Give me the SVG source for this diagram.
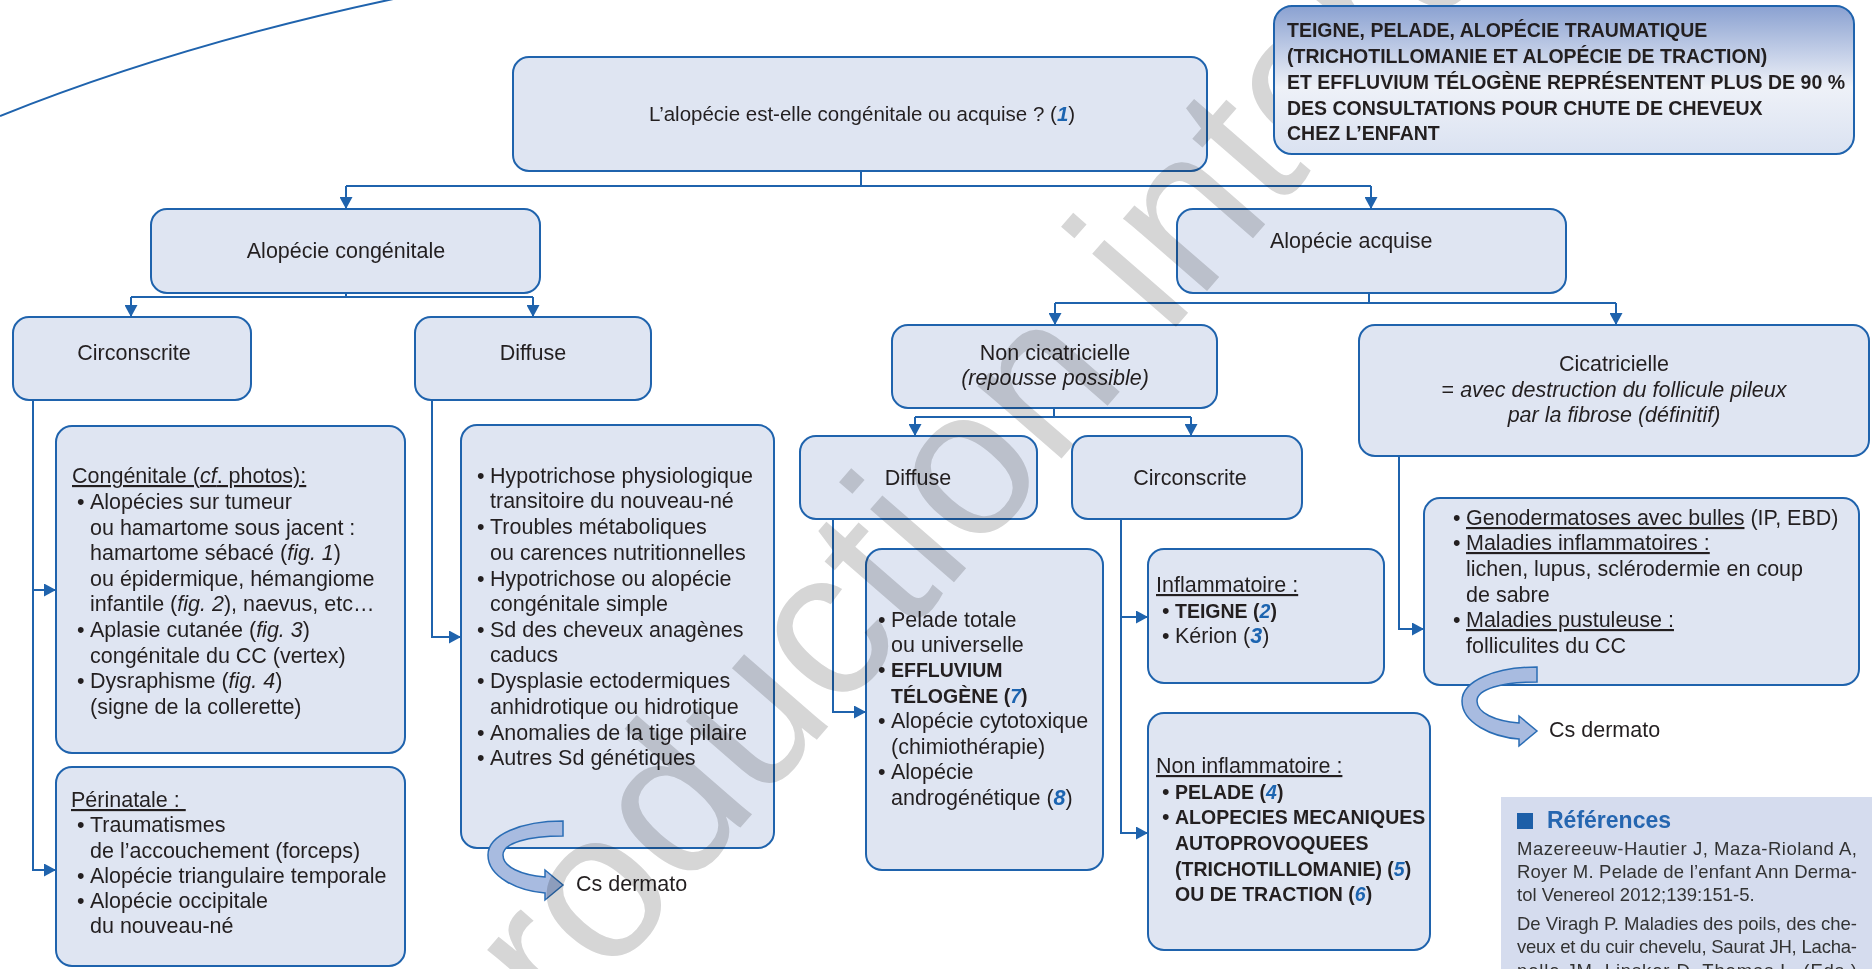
<svg xmlns="http://www.w3.org/2000/svg" width="1872" height="969" viewBox="0 0 1872 969">
<defs>
<style>
.box{fill:#dfe5f2;stroke:#1f63ad;stroke-width:2}
.conn{fill:none;stroke:#1f63ad;stroke-width:2}
text{font-family:"Liberation Sans",Arial,sans-serif;font-size:21.5px;fill:#231f20}
.b{font-weight:bold;font-size:19.5px}
.n{fill:#1c64b0;font-style:italic;font-weight:bold}
.i{font-style:italic}
.u{text-decoration:underline}
.c{text-anchor:middle}
.curl{fill:#a8bbe0;stroke:#2a6db5;stroke-width:1.5}
.ref{font-size:18.5px;fill:#333}
.wm{font-size:210px;fill:#d6d6d6}
</style>
<linearGradient id="tg" x1="0" y1="0" x2="0" y2="1">
<stop offset="0" stop-color="#8aa1d1"/>
<stop offset="0.55" stop-color="#eef1f8"/>
<stop offset="1" stop-color="#dae2f1"/>
</linearGradient>
<marker id="ah" viewBox="0 0 12 13" refX="12" refY="6.5" markerWidth="12" markerHeight="13" markerUnits="userSpaceOnUse" orient="auto">
<path d="M0,0 L12,6.5 L0,13 z" fill="#1f63ad"/>
</marker>
<path id="curl" d="M0,0 C-42,0 -75,14 -75,34 C-75,56 -45,70 -18,72 L-18,79 L0,64 L-18,49 L-18,56 C-42,54 -60,46 -60,34 C-60,22 -35,15 0,15 Z"/>
</defs>

<path d="M0,116 Q180,44 398,-2" class="conn"/>

<g id="connectors" class="conn">
<path d="M861,171 V186 M346,186 H1371"/>
<path d="M346,186 V209" marker-end="url(#ah)"/>
<path d="M1371,186 V209" marker-end="url(#ah)"/>
<path d="M346,293 V297 M131,297 H533"/>
<path d="M131,297 V317" marker-end="url(#ah)"/>
<path d="M533,297 V317" marker-end="url(#ah)"/>
<path d="M1369,293 V303 M1055,303 H1616"/>
<path d="M1055,303 V325" marker-end="url(#ah)"/>
<path d="M1616,303 V325" marker-end="url(#ah)"/>
<path d="M33,400 V870 H56" marker-end="url(#ah)"/>
<path d="M33,590 H56" marker-end="url(#ah)"/>
<path d="M432,400 V637 H461" marker-end="url(#ah)"/>
<path d="M1054,408 V417 M915,417 H1191"/>
<path d="M915,417 V436" marker-end="url(#ah)"/>
<path d="M1191,417 V436" marker-end="url(#ah)"/>
<path d="M833,519 V712 H866" marker-end="url(#ah)"/>
<path d="M1121,519 V833 H1148" marker-end="url(#ah)"/>
<path d="M1121,617 H1148" marker-end="url(#ah)"/>
<path d="M1399,456 V629 H1424" marker-end="url(#ah)"/>
</g>

<g id="n-top">
<rect class="box" x="513" y="57" width="694" height="114" rx="16"/>
<text x="862" y="121" class="c" style="font-size:20.5px">L’alopécie est-elle congénitale ou acquise ? (<tspan class="n">1</tspan>)</text>
</g>

<g id="n-congen">
<rect class="box" x="151" y="209" width="389" height="84" rx="16"/>
<text x="346" y="258" class="c">Alopécie congénitale</text>
</g>

<g id="n-acq">
<rect class="box" x="1177" y="209" width="389" height="84" rx="16"/>
<text x="1270" y="248">Alopécie acquise</text>
</g>

<g id="n-circ1">
<rect class="box" x="13" y="317" width="238" height="83" rx="16"/>
<text x="134" y="360" class="c">Circonscrite</text>
</g>

<g id="n-diff1">
<rect class="box" x="415" y="317" width="236" height="83" rx="16"/>
<text x="533" y="360" class="c">Diffuse</text>
</g>

<g id="n-congphotos">
<rect class="box" x="56" y="426" width="349" height="327" rx="16"/>
<text x="72" y="483" class="u">Congénitale (<tspan class="i">cf</tspan>. photos):</text>
<text x="77" y="509">•</text><text x="90" y="509">Alopécies sur tumeur</text>
<text x="90" y="535">ou hamartome sous jacent :</text>
<text x="90" y="560">hamartome sébacé (<tspan class="i">fig. 1</tspan>)</text>
<text x="90" y="586">ou épidermique, hémangiome</text>
<text x="90" y="611">infantile (<tspan class="i">fig. 2</tspan>), naevus, etc…</text>
<text x="77" y="637">•</text><text x="90" y="637">Aplasie cutanée (<tspan class="i">fig. 3</tspan>)</text>
<text x="90" y="663">congénitale du CC (vertex)</text>
<text x="77" y="688">•</text><text x="90" y="688">Dysraphisme (<tspan class="i">fig. 4</tspan>)</text>
<text x="90" y="714">(signe de la collerette)</text>
</g>

<g id="n-perinat">
<rect class="box" x="56" y="767" width="349" height="199" rx="16"/>
<text x="71" y="807" class="u" style="white-space:pre">Périnatale : </text>
<text x="77" y="832">•</text><text x="90" y="832">Traumatismes</text>
<text x="90" y="858">de l’accouchement (forceps)</text>
<text x="77" y="883">•</text><text x="90" y="883">Alopécie triangulaire temporale</text>
<text x="77" y="908">•</text><text x="90" y="908">Alopécie occipitale</text>
<text x="90" y="933">du nouveau-né</text>
</g>

<g id="n-hypo">
<rect class="box" x="461" y="425" width="313" height="423" rx="16"/>
<text x="477" y="483">•</text><text x="490" y="483">Hypotrichose physiologique</text>
<text x="490" y="508">transitoire du nouveau-né</text>
<text x="477" y="534">•</text><text x="490" y="534">Troubles métaboliques</text>
<text x="490" y="560">ou carences nutritionnelles</text>
<text x="477" y="586">•</text><text x="490" y="586">Hypotrichose ou alopécie</text>
<text x="490" y="611">congénitale simple</text>
<text x="477" y="637">•</text><text x="490" y="637">Sd des cheveux anagènes</text>
<text x="490" y="662">caducs</text>
<text x="477" y="688">•</text><text x="490" y="688">Dysplasie ectodermiques</text>
<text x="490" y="714">anhidrotique ou hidrotique</text>
<text x="477" y="740">•</text><text x="490" y="740">Anomalies de la tige pilaire</text>
<text x="477" y="765">•</text><text x="490" y="765">Autres Sd génétiques</text>
</g>

<g id="n-cs1">
<use href="#curl" class="curl" transform="translate(563,821)"/>
<text x="576" y="891">Cs dermato</text>
</g>

<g id="n-noncic">
<rect class="box" x="892" y="325" width="325" height="83" rx="16"/>
<text x="1055" y="360" class="c">Non cicatricielle</text>
<text x="1055" y="385" class="c i">(repousse possible)</text>
</g>

<g id="n-cicat">
<rect class="box" x="1359" y="325" width="510" height="131" rx="16"/>
<text x="1614" y="371" class="c">Cicatricielle</text>
<text x="1614" y="397" class="c">= <tspan class="i">avec destruction du follicule pileux</tspan></text>
<text x="1614" y="422" class="c i">par la fibrose (définitif)</text>
</g>

<g id="n-diff2">
<rect class="box" x="800" y="436" width="237" height="83" rx="16"/>
<text x="918" y="485" class="c">Diffuse</text>
</g>

<g id="n-circ2">
<rect class="box" x="1072" y="436" width="230" height="83" rx="16"/>
<text x="1190" y="485" class="c">Circonscrite</text>
</g>

<g id="n-pelade">
<rect class="box" x="866" y="549" width="237" height="321" rx="16"/>
<text x="878" y="627">•</text><text x="891" y="627">Pelade totale</text>
<text x="891" y="652">ou universelle</text>
<text x="878" y="677">•</text><text x="891" y="677" class="b">EFFLUVIUM</text>
<text x="891" y="703" class="b">TÉLOGÈNE (<tspan class="n">7</tspan>)</text>
<text x="878" y="728">•</text><text x="891" y="728">Alopécie cytotoxique</text>
<text x="891" y="754">(chimiothérapie)</text>
<text x="878" y="779">•</text><text x="891" y="779">Alopécie</text>
<text x="891" y="805">androgénétique (<tspan class="n">8</tspan>)</text>
</g>

<g id="n-inflam">
<rect class="box" x="1148" y="549" width="236" height="134" rx="16"/>
<text x="1156" y="592" class="u">Inflammatoire :</text>
<text x="1162" y="618">•</text><text x="1175" y="618" class="b">TEIGNE (<tspan class="n">2</tspan>)</text>
<text x="1162" y="643">•</text><text x="1175" y="643">Kérion (<tspan class="n">3</tspan>)</text>
</g>

<g id="n-noninflam">
<rect class="box" x="1148" y="713" width="282" height="237" rx="16"/>
<text x="1156" y="773" class="u">Non inflammatoire :</text>
<text x="1162" y="799">•</text><text x="1175" y="799" class="b">PELADE (<tspan class="n">4</tspan>)</text>
<text x="1162" y="824">•</text><text x="1175" y="824" class="b">ALOPECIES MECANIQUES</text>
<text x="1175" y="850" class="b">AUTOPROVOQUEES</text>
<text x="1175" y="876" class="b">(TRICHOTILLOMANIE) (<tspan class="n">5</tspan>)</text>
<text x="1175" y="901" class="b">OU DE TRACTION (<tspan class="n">6</tspan>)</text>
</g>

<g id="n-geno">
<rect class="box" x="1424" y="498" width="435" height="187" rx="16"/>
<text x="1453" y="525">•</text><text x="1466" y="525"><tspan class="u">Genodermatoses avec bulles</tspan> (IP, EBD)</text>
<text x="1453" y="550">•</text><text x="1466" y="550" class="u">Maladies inflammatoires :</text>
<text x="1466" y="576">lichen, lupus, sclérodermie en coup</text>
<text x="1466" y="602">de sabre</text>
<text x="1453" y="627">•</text><text x="1466" y="627" class="u">Maladies pustuleuse :</text>
<text x="1466" y="653">folliculites du CC</text>
</g>

<g id="n-cs2">
<use href="#curl" class="curl" transform="translate(1537,667)"/>
<text x="1549" y="737">Cs dermato</text>
</g>

<g id="refs">
<rect x="1501" y="797" width="371" height="172" fill="#d5dcee"/>
<rect x="1517" y="813" width="16" height="16" fill="#1d5fa8"/>
<text x="1547" y="828" style="font-weight:bold;font-size:23px;fill:#2566b0">Références</text>
<text class="ref" x="1517" y="855" textLength="340" lengthAdjust="spacing">Mazereeuw-Hautier J, Maza-Rioland A,</text>
<text class="ref" x="1517" y="878" textLength="340" lengthAdjust="spacing">Royer M. Pelade de l’enfant Ann Derma-</text>
<text class="ref" x="1517" y="901">tol Venereol 2012;139:151-5.</text>
<text class="ref" x="1517" y="930" textLength="340" lengthAdjust="spacing">De Viragh P. Maladies des poils, des che-</text>
<text class="ref" x="1517" y="953" textLength="340" lengthAdjust="spacing">veux et du cuir chevelu, Saurat JH, Lacha-</text>
<text class="ref" x="1517" y="977" textLength="340" lengthAdjust="spacing">pelle JM, Lipsker D, Thomas L. (Eds.)</text>
</g>

<g id="watermark" style="mix-blend-mode:multiply">
<text class="wm" transform="translate(309,1324) rotate(-49)">Reproduction interdite</text>
</g>

<g id="n-note">
<rect x="1274" y="6" width="580" height="148" rx="18" fill="url(#tg)" stroke="#1f63ad" stroke-width="2"/>
<text class="b"><tspan x="1287" y="37">TEIGNE, PELADE, ALOPÉCIE TRAUMATIQUE</tspan><tspan x="1287" y="63">(TRICHOTILLOMANIE ET ALOPÉCIE DE TRACTION)</tspan><tspan x="1287" y="89">ET EFFLUVIUM TÉLOGÈNE REPRÉSENTENT PLUS DE 90 %</tspan><tspan x="1287" y="115">DES CONSULTATIONS POUR CHUTE DE CHEVEUX</tspan><tspan x="1287" y="140">CHEZ L’ENFANT</tspan></text>
</g>
</svg>
